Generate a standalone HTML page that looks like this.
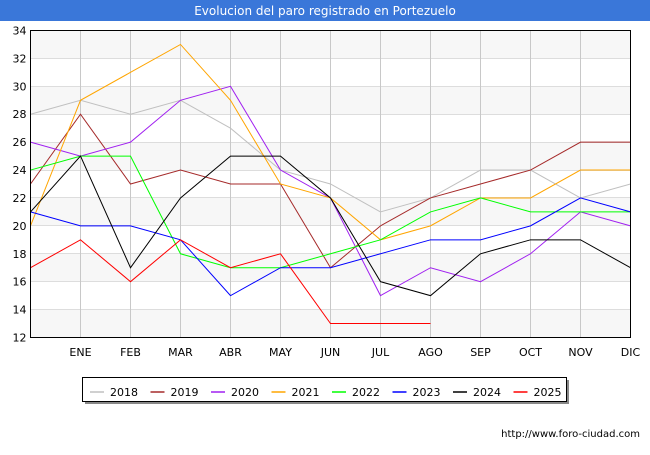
<!DOCTYPE html>
<html><head><meta charset="utf-8"><style>
body{margin:0;background:#fff;font-family:"Liberation Sans","DejaVu Sans",sans-serif;}
svg text{font-family:"DejaVu Sans","Liberation Sans",sans-serif;}
</style></head><body>
<svg id="c" width="650" height="450" xmlns="http://www.w3.org/2000/svg">
<rect x="0" y="0" width="650" height="21" fill="#3a77d9"/>
<text x="325" y="15" text-anchor="middle" fill="#fff" font-size="12">Evolucion del paro registrado en Portezuelo</text>
<g id="plot"></g>
<text x="640" y="437" text-anchor="end" font-size="10" fill="#000">http://www.foro-ciudad.com</text>
</svg>
<script>
const months=["ENE","FEB","MAR","ABR","MAY","JUN","JUL","AGO","SEP","OCT","NOV","DIC"];
const yTicks=[12,14,16,18,20,22,24,26,28,30,32,34];
const years=["2018","2019","2020","2021","2022","2023","2024","2025"];
const colors=["#c0c0c0","#a52a2a","#a020f0","#ffa500","#00ff00","#0000ff","#000000","#ff0000"];
const s2018=[28,29,28,29,27,24,23,21,22,24,24,22,23];
const s2019=[23,28,23,24,23,23,17,20,22,23,24,26,26];
const s2020=[26,25,26,29,30,24,22,15,17,16,18,21,20];
const s2021=[20,29,31,33,29,23,22,19,20,22,22,24,24];
const s2022=[24,25,25,18,17,17,18,19,21,22,21,21,21];
const s2023=[21,20,20,19,15,17,17,18,19,19,20,22,21];
const s2024=[21,25,17,22,25,25,22,16,15,18,19,19,17];
const s2025=[17,19,16,19,17,18,13,13,13];
const series=[s2018,s2019,s2020,s2021,s2022,s2023,s2024,s2025];
const NS="http://www.w3.org/2000/svg";
const L=30.5,R=630.5,T=30.5,B=337.5,ymin=12,ymax=34;
const x=i=>L+i*(R-L)/12;
const y=v=>B-(v-ymin)*(B-T)/(ymax-ymin);
const g=document.getElementById('plot');
function mk(t,a,p){const e=document.createElementNS(NS,t);for(const k in a)e.setAttribute(k,a[k]);(p||g).appendChild(e);return e;}
for(let i=0;i<yTicks.length-1;i++){
 if((yTicks.length-2-i)%2===0){const r=mk('rect',{x:L,y:y(yTicks[i+1]),width:R-L,height:y(yTicks[i])-y(yTicks[i+1]),fill:'#f7f7f7'});
 
 }
}
yTicks.forEach(v=>{
 const yy=Math.round(y(v)-0.5)+0.5;
 const l=mk('line',{x1:L,x2:R,y1:yy,y2:yy,stroke:'#ddd','stroke-width':1});
 
 
 const t=mk('text',{x:L-4,y:y(v)+4,'text-anchor':'end','font-size':11});t.textContent=v;
 
 
});
months.forEach((m,i)=>{
 const l=mk('line',{x1:x(i+1),x2:x(i+1),y1:T,y2:B,stroke:'#c8c8c8','stroke-width':1});
 
 
 const t=mk('text',{x:x(i+1),y:356,'text-anchor':'middle','font-size':11});t.textContent=m;
 
 
});
series.forEach((s,k)=>{
 const p=mk('polyline',{points:s.map((v,i)=>x(i)+','+y(v)).join(' '),fill:'none',stroke:colors[k],'stroke-width':1});
 
 
});
const fr=mk('rect',{x:L,y:T,width:R-L,height:B-T,fill:'none',stroke:'#000','stroke-width':1});


const lg=mk('g',{});


mk('rect',{x:85,y:380,width:484,height:24,fill:'#888'},lg);
mk('rect',{x:82.5,y:377.5,width:484,height:24,fill:'#fff',stroke:'#000','stroke-width':1},lg);
years.forEach((yr,k)=>{
 const e=mk('g',{},lg);
 
 
 const bx=90+k*60.5;
 mk('line',{x1:bx,x2:bx+14,y1:392,y2:392,stroke:colors[k],'stroke-width':1.5},e);
 const t=mk('text',{x:bx+20,y:396,'font-size':11},e);t.textContent=yr;
});
</script>
</body></html>
